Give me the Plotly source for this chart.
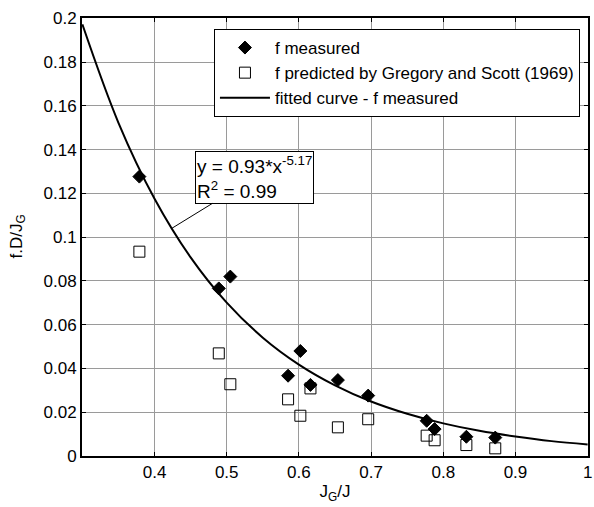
import plotly.graph_objects as go

# Measured values (f measured)
x_meas = [0.379, 0.489, 0.505, 0.585, 0.602, 0.616, 0.654, 0.696, 0.777, 0.788, 0.832, 0.872]
y_meas = [0.1277, 0.0766, 0.0820, 0.0367, 0.0480, 0.0325, 0.0347, 0.0276, 0.0161, 0.0123, 0.0088, 0.0084]

# Predicted by Gregory and Scott (1969)
x_pred = [0.379, 0.489, 0.505, 0.585, 0.602, 0.616, 0.654, 0.696, 0.777, 0.788, 0.832, 0.872]
y_pred = [0.0934, 0.0469, 0.0328, 0.0259, 0.0184, 0.0309, 0.0131, 0.0168, 0.0093, 0.0072, 0.0050, 0.0035]

# Fitted curve
x_fit = [0.30, 0.35, 0.40, 0.45, 0.50, 0.55, 0.60, 0.65, 0.70, 0.75, 0.80, 0.85, 0.90, 0.95, 1.00]
y_fit = [0.1973, 0.1523, 0.1176, 0.0908, 0.0701, 0.0541, 0.0418, 0.0323, 0.0249, 0.0193, 0.0149, 0.0115, 0.0089, 0.0068, 0.0053]

x_ticks = [0.4, 0.5, 0.6, 0.7, 0.8, 0.9, 1.0]
x_ticklabels = ["0.4", "0.5", "0.6", "0.7", "0.8", "0.9", "1"]
y_ticks = [0, 0.02, 0.04, 0.06, 0.08, 0.1, 0.12, 0.14, 0.16, 0.18, 0.2]
y_ticklabels = ["0", "0.02", "0.04", "0.06", "0.08", "0.1", "0.12", "0.14", "0.16", "0.18", "0.2"]

FONT = "Liberation Sans, Arial, sans-serif"
FS = 17

fig = go.Figure()
fig.add_trace(go.Scatter(
    x=x_meas, y=y_meas, mode="markers", name="f measured",
    marker=dict(symbol="diamond", size=10, color="black", line=dict(color="black", width=1)),
))
fig.add_trace(go.Scatter(
    x=x_pred, y=y_pred, mode="markers", name="f predicted by Gregory and Scott (1969)",
    marker=dict(symbol="square-open", size=11, color="black", line=dict(color="black", width=1)),
))
fig.add_trace(go.Scatter(
    x=x_fit, y=y_fit, mode="lines", name="fitted curve - f measured",
    line=dict(color="black", width=2, shape="spline"),
))

fig.add_annotation(
    x=0.4236, y=0.104, xref="x", yref="y",
    text="y = 0.93*x<sup>-5.17</sup><br>R<sup>2</sup> = 0.99",
    showarrow=True, arrowhead=0, arrowwidth=1, arrowcolor="black",
    ax=83, ay=-51, align="left",
    bordercolor="black", borderwidth=1, borderpad=1, bgcolor="white",
    font=dict(family=FONT, size=19, color="black"),
)

# y-axis title placed as rotated text
fig.add_annotation(
    x=(17 - 82) / 510, y=0.5, xref="paper", yref="paper",
    text="f.D/J<sub>G</sub>", textangle=-90, showarrow=False,
    xanchor="center", yanchor="middle",
    font=dict(family=FONT, size=FS, color="black"),
)

axis_common = dict(
    showline=True, linecolor="black", linewidth=2, mirror="allticks",
    ticks="inside", ticklen=4, tickcolor="black",
    showgrid=True, gridcolor="#9a9a9a", gridwidth=1, zeroline=False,
    tickfont=dict(family=FONT, size=FS, color="black"),
    ticklabeloverflow="allow",
)

fig.update_xaxes(
    range=[0.2995, 1.0005], tickvals=x_ticks, ticktext=x_ticklabels,
    title=dict(text="J<sub>G</sub>/J", font=dict(family=FONT, size=FS, color="black"), standoff=4),
    **axis_common,
)
fig.update_yaxes(
    range=[0, 0.2002], tickvals=y_ticks, ticktext=y_ticklabels,
    **axis_common,
)

fig.update_layout(
    width=594, height=507,
    margin=dict(l=82, r=2, t=18, b=51),
    paper_bgcolor="white", plot_bgcolor="white",
    showlegend=True,
    legend=dict(
        x=(215 - 82) / 510, y=(456 - 29) / 438, xanchor="left", yanchor="top",
        bgcolor="white", bordercolor="black", borderwidth=1,
        font=dict(family=FONT, size=FS, color="black"),
        itemwidth=50, tracegroupgap=0,
    ),
    font=dict(family=FONT, size=FS, color="black"),
)

fig.write_html("out.html")
